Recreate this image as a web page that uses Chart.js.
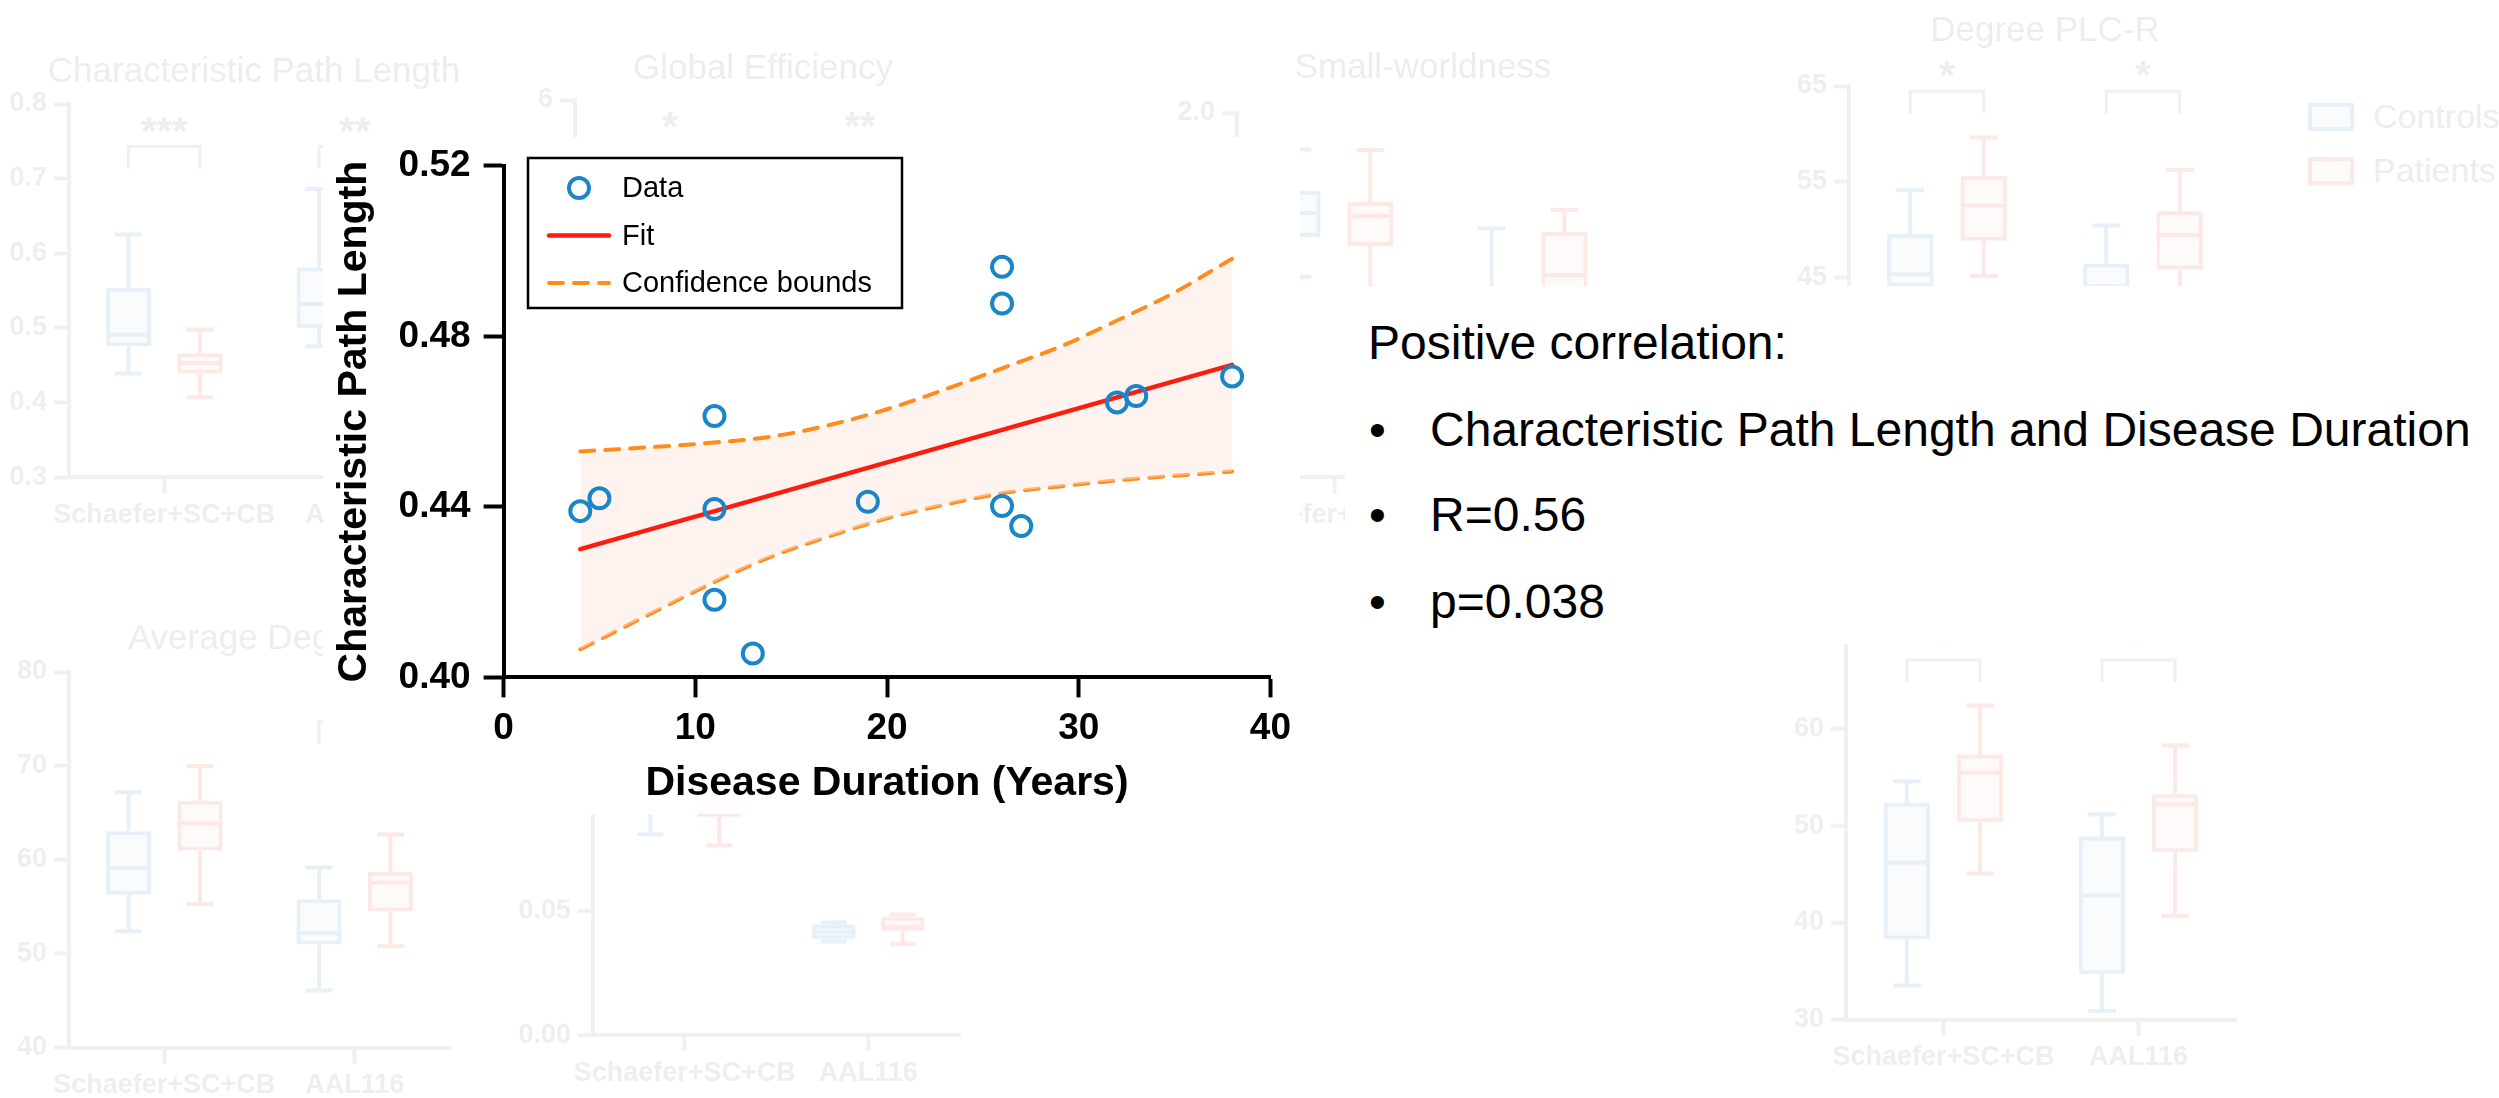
<!DOCTYPE html>
<html>
<head>
<meta charset="utf-8">
<title>Characteristic Path Length vs Disease Duration</title>
<script src="https://cdn.jsdelivr.net/npm/chart.js@4.4.1/dist/chart.umd.min.js"></script>
<style>
  html, body { margin: 0; padding: 0; background: #fff; }
  body {
    width: 2499px;
    height: 1098px;
    position: relative;
    overflow: hidden;
    font-family: "Liberation Sans", Arial, Helvetica, sans-serif;
  }
  .panel { position: absolute; z-index: 0; }
  .faint-title {
    position: absolute; z-index: 0; font-size: 35px; line-height: 40px;
    color: #ededed; white-space: nowrap; transform: translateX(-50%);
  }
  .faint-key { position: absolute; z-index: 0; font-size: 34px; line-height: 40px; color: #ededed; white-space: nowrap; }
  .faint-swatch { position: absolute; z-index: 0; width: 38px; height: 20px; border: 4px solid; }
  .mask { position: absolute; z-index: 1; background: #fff; }
  #chartBox { position: absolute; z-index: 2; left: 300px; top: 100px; width: 1000px; height: 760px; }
  .note { position: absolute; z-index: 2; font-size: 48px; line-height: 48px; color: #000; white-space: nowrap; }
</style>
</head>
<body>
  <div id="background"></div>

  <div class="faint-title" style="left: 254px; top: 50px;">Characteristic Path Length</div>
  <div class="faint-title" style="left: 763px; top: 47px;">Global Efficiency</div>
  <div class="faint-title" style="left: 1423px; top: 46px;">Small-worldness</div>
  <div class="faint-title" style="left: 2045px; top: 9px;">Degree PLC-R</div>
  <div class="faint-title" style="left: 255px; top: 617px;">Average Degree</div>

  <div class="faint-swatch" style="left: 2308px; top: 103px; border-color: #e7f0f9; background: #f9fbfd;"></div>
  <div class="faint-key" style="left: 2373px; top: 96px;">Controls</div>
  <div class="faint-swatch" style="left: 2308px; top: 157px; border-color: #fce9e5; background: #fefafa;"></div>
  <div class="faint-key" style="left: 2373px; top: 150px;">Patients</div>

  <div class="mask" style="left: 323px; top: 137px; width: 977px; height: 677px;"></div>
  <div class="mask" style="left: 1345px; top: 286px; width: 1154px; height: 358px;"></div>

  <div id="chartBox"><canvas id="canvas"></canvas></div>

  <div class="note" style="left: 1368px; top: 319px;">Positive correlation:</div>
  <div class="note" style="left: 1369px; top: 406px;">•</div>
  <div class="note" style="left: 1430px; top: 406px;">Characteristic Path Length and Disease Duration</div>
  <div class="note" style="left: 1369px; top: 491px;">•</div>
  <div class="note" style="left: 1430px; top: 491px;">R=0.56</div>
  <div class="note" style="left: 1369px; top: 578px;">•</div>
  <div class="note" style="left: 1430px; top: 578px;">p=0.038</div>

<script>
// ==================== SỐ LIỆU ====================
const duration = [4, 5, 11, 11, 11, 13, 19, 26, 26, 26, 27, 32, 33, 38];
const pathLength = [0.439, 0.442, 0.4613, 0.4395, 0.4182, 0.4056, 0.4412, 0.4963, 0.4877, 0.4402, 0.4355, 0.4645, 0.466, 0.4706];

const fitX = [4, 38];
const fitY = [0.4301, 0.4733];

const boundX = [4, 8, 11, 14, 17, 20, 23, 26, 29, 32, 35, 38];
const upperBound = [0.453, 0.4541, 0.4551, 0.4565, 0.4592, 0.4629, 0.4675, 0.4725, 0.4775, 0.4837, 0.4903, 0.4982];
const lowerBound = [0.4066, 0.4157, 0.4224, 0.4284, 0.4331, 0.4373, 0.4405, 0.4432, 0.4448, 0.4462, 0.4473, 0.4483];

const xTicks = [0, 10, 20, 30, 40];
const yTicks = [0.4, 0.44, 0.48, 0.52];

// hình nền mờ: box plot [min, q1, median, q3, max], null = bị che
const groups = ["Schaefer+SC+CB", "AAL116"];

const cplControls = [[0.439, 0.4755, 0.491, 0.5535, 0.625], [0.4755, 0.5, 0.532, 0.581, 0.686]];
const cplPatients = [[0.407, 0.439, 0.453, 0.466, 0.498], null];
const cplTicks = [0.3, 0.4, 0.5, 0.6, 0.7, 0.8];
const cplSig = ["***", "**"];

const geTicks = [0, 2, 4, 6];
const geSig = ["*", "**"];

const swControls = [[1.1, 1.319, 1.45, 1.571, 1.8], [0.6, 0.8, 0.9, 1.0, 1.365]];
const swPatients = [[1.0, 1.269, 1.434, 1.511, 1.797], [0.75, 0.98, 1.11, 1.346, 1.467]];
const swTicks = [0, 0.5, 1.0, 1.5, 2.0];

const plcControls = [[40, 44, 45.3, 49.5, 54.1], [38, 42, 44, 46.4, 50.4]];
const plcPatients = [[45.1, 48.8, 52.5, 55.57, 59.6], [43, 45.8, 49.4, 51.9, 56.2]];
const plcTicks = [35, 45, 55, 65];
const plcSig = ["*", "*"];

const degControls = [[52.4, 56.3, 59.1, 63.04, 67.2], [46.1, 51, 52.2, 55.8, 59.2]];
const degPatients = [[55.3, 61, 63.9, 66.3, 70], [50.8, 54.5, 57.6, 58.7, 62.7]];
const degTicks = [40, 50, 60, 70, 80];
const degSig = [null, "*"];

const effControls = [[0.081, 0.09, 0.093, 0.097, 0.1], [0.0378, 0.0387, 0.0415, 0.0446, 0.0455]];
const effPatients = [[0.0764, 0.088, 0.092, 0.096, 0.1], [0.0368, 0.0419, 0.0437, 0.0476, 0.0485]];
const effTicks = [0, 0.05, 0.1];

const rControls = [[33.5, 38.3, 46.2, 52.4, 54.6], [30.9, 34.7, 42.8, 48.9, 51.2]];
const rPatients = [[45.1, 50.4, 55.5, 57.35, 62.4], [40.7, 47.3, 52.2, 53.3, 58.3]];
const rTicks = [30, 40, 50, 60, 70];
const rSig = ["*", "*"];

// ==================== MÀU & FONT ====================
const FONT = '"Liberation Sans", Arial, Helvetica, sans-serif';
const BLUE = "#1a86c8";
const RED = "#fa1e0e";
const ORANGE = "#ff8c1a";
const BAND = "rgba(255, 228, 222, 0.45)";

const FAINT_TEXT = "#eeeeee";
const FAINT_AXIS = "#f0f0f0";
const CTRL_LINE = "#e7f0f9";
const CTRL_FILL = "#f9fbfd";
const PAT_LINE = "#fce9e5";
const PAT_FILL = "#fefafa";

const toPoints = (xs, ys) => xs.map((x, i) => ({ x: x, y: ys[i] }));

// ==================== HÌNH NỀN MỜ ====================
// râu, trung vị và dấu sao vẽ theo thang đo của từng biểu đồ
const boxWhisker = {
  id: "boxWhisker",
  afterDatasetsDraw(chart, args, opts) {
    const c = chart.ctx;
    const yScale = chart.scales.y;
    c.save();
    c.lineWidth = 4;
    chart.data.datasets.forEach((ds, di) => {
      const meta = chart.getDatasetMeta(di);
      c.strokeStyle = ds.borderColor;
      ds.stats.forEach((s, i) => {
        if (!s) return;
        const bar = meta.data[i];
        const x = bar.x;
        const half = bar.width / 2;
        const cap = half * 0.6;
        const [lo, q1, med, q3, hi] = s.map((v) => yScale.getPixelForValue(v));
        c.beginPath();
        c.moveTo(x, q3);
        c.lineTo(x, hi);
        c.moveTo(x - cap, hi);
        c.lineTo(x + cap, hi);
        c.moveTo(x, q1);
        c.lineTo(x, lo);
        c.moveTo(x - cap, lo);
        c.lineTo(x + cap, lo);
        c.moveTo(x - half, med);
        c.lineTo(x + half, med);
        c.stroke();
      });
    });

    if (opts.sig) {
      const a = chart.getDatasetMeta(0).data;
      const b = chart.getDatasetMeta(1).data;
      const top = yScale.getPixelForValue(opts.sigY);
      opts.sig.forEach((txt, i) => {
        if (!txt) return;
        c.strokeStyle = FAINT_AXIS;
        c.lineWidth = 3;
        c.beginPath();
        c.moveTo(a[i].x, top + 22);
        c.lineTo(a[i].x, top);
        c.lineTo(b[i].x, top);
        c.lineTo(b[i].x, top + 22);
        c.stroke();
        c.fillStyle = FAINT_TEXT;
        c.font = "bold 40px " + FONT;
        c.textAlign = "center";
        c.textBaseline = "alphabetic";
        c.fillText(txt, (a[i].x + b[i].x) / 2, top - 2);
      });
    }
    c.restore();
  },
};

function boxPanel(p) {
  const yW = 80;
  const padTop = 50;
  const xH = 70;
  const padRight = 10;

  const holder = document.createElement("div");
  holder.className = "panel";
  holder.style.left = p.axisX - yW + "px";
  holder.style.top = p.topPx - padTop + "px";
  holder.style.width = yW + p.endPx - p.axisX + padRight + "px";
  holder.style.height = padTop + p.bottomPx - p.topPx + xH + "px";
  const cv = document.createElement("canvas");
  holder.appendChild(cv);
  document.getElementById("background").appendChild(holder);

  const tickFont = { family: FONT, size: 27, weight: "bold" };

  new Chart(cv.getContext("2d"), {
    type: "bar",
    data: {
      labels: groups,
      datasets: [
        {
          label: "Controls",
          stats: p.controls,
          data: p.controls.map((s) => (s ? [s[1], s[3]] : null)),
          backgroundColor: CTRL_FILL,
          borderColor: CTRL_LINE,
          borderWidth: 4,
          borderSkipped: false,
        },
        {
          label: "Patients",
          stats: p.patients,
          data: p.patients.map((s) => (s ? [s[1], s[3]] : null)),
          backgroundColor: PAT_FILL,
          borderColor: PAT_LINE,
          borderWidth: 4,
          borderSkipped: false,
        },
      ],
    },
    options: {
      responsive: true,
      maintainAspectRatio: false,
      animation: false,
      events: [],
      layout: { padding: { left: 0, top: padTop, right: padRight, bottom: 0 } },
      datasets: { bar: { categoryPercentage: 0.75, barPercentage: 0.63 } },
      plugins: {
        legend: { display: false },
        tooltip: { enabled: false },
        boxWhisker: { sig: p.sig, sigY: p.sigY },
      },
      scales: {
        x: {
          afterFit: (s) => {
            s.height = xH;
          },
          grid: {
            offset: false,
            display: true,
            drawOnChartArea: false,
            tickLength: 16,
            tickWidth: 4,
            tickColor: FAINT_AXIS,
          },
          border: { display: true, color: FAINT_AXIS, width: 4 },
          ticks: {
            color: FAINT_TEXT,
            padding: 6,
            autoSkip: false,
            maxRotation: 0,
            minRotation: 0,
            font: tickFont,
          },
        },
        y: {
          min: p.min,
          max: p.max,
          afterBuildTicks: (s) => {
            s.ticks = p.ticks.map((v) => ({ value: v }));
          },
          afterFit: (s) => {
            s.width = yW;
          },
          grid: {
            display: true,
            drawOnChartArea: false,
            tickLength: 15,
            tickWidth: 4,
            tickColor: FAINT_AXIS,
          },
          border: { display: true, color: FAINT_AXIS, width: 4 },
          ticks: {
            color: FAINT_TEXT,
            padding: 7,
            font: tickFont,
            callback: (v) => Number(v).toFixed(p.decimals),
          },
        },
      },
    },
    plugins: [boxWhisker],
  });
}

const noBoxes = [null, null];

boxPanel({ axisX: 69, topPx: 103.6, bottomPx: 476.8, endPx: 450, min: 0.3, max: 0.8, ticks: cplTicks, decimals: 1,
  controls: cplControls, patients: cplPatients, sig: cplSig, sigY: 0.743 });
boxPanel({ axisX: 575, topPx: 100, bottomPx: 475, endPx: 955, min: 0, max: 6, ticks: geTicks, decimals: 0,
  controls: noBoxes, patients: noBoxes, sig: geSig, sigY: 5.33 });
boxPanel({ axisX: 1237, topPx: 113, bottomPx: 477, endPx: 1625, min: 0, max: 2, ticks: swTicks, decimals: 1,
  controls: swControls, patients: swPatients });
boxPanel({ axisX: 1849, topPx: 85.7, bottomPx: 372.3, endPx: 2241, min: 35, max: 65, ticks: plcTicks, decimals: 0,
  controls: plcControls, patients: plcPatients, sig: plcSig, sigY: 64.45 });
boxPanel({ axisX: 69, topPx: 671.5, bottomPx: 1047.3, endPx: 450, min: 40, max: 80, ticks: degTicks, decimals: 0,
  controls: degControls, patients: degPatients, sig: degSig, sigY: 74.7 });
boxPanel({ axisX: 593, topPx: 787.4, bottomPx: 1034.6, endPx: 960, min: 0, max: 0.1, ticks: effTicks, decimals: 2,
  controls: effControls, patients: effPatients });
boxPanel({ axisX: 1846, topPx: 632.1, bottomPx: 1018.8, endPx: 2236, min: 30, max: 70, ticks: rTicks, decimals: 0,
  controls: rControls, patients: rPatients, sig: rSig, sigY: 67.1 });

// ==================== BIỂU ĐỒ CHÍNH ====================
// khung chú thích vẽ trong vùng biểu đồ
const legendBox = {
  id: "legendBox",
  afterDatasetsDraw(chart, args, opts) {
    const c = chart.ctx;
    c.save();
    c.fillStyle = "#fff";
    c.fillRect(opts.left, opts.top, opts.width, opts.height);
    c.lineWidth = 2.5;
    c.strokeStyle = "#000";
    c.strokeRect(opts.left, opts.top, opts.width, opts.height);

    let row = 0;
    chart.data.datasets.forEach((ds) => {
      if (ds.hideInLegend) return;
      const y = opts.top + opts.firstRow + row * opts.rowGap;
      const mid = opts.left + opts.symbolX;
      if (ds.showLine) {
        c.beginPath();
        c.lineWidth = ds.borderWidth;
        c.strokeStyle = ds.borderColor;
        c.lineCap = "round";
        c.setLineDash(ds.borderDash || []);
        c.moveTo(mid - 30, y);
        c.lineTo(mid + 30, y);
        c.stroke();
        c.setLineDash([]);
      } else {
        c.beginPath();
        c.lineWidth = ds.pointBorderWidth;
        c.strokeStyle = ds.pointBorderColor;
        c.arc(mid, y, ds.pointRadius, 0, Math.PI * 2);
        c.stroke();
      }
      c.fillStyle = "#000";
      c.font = "29px " + FONT;
      c.textBaseline = "middle";
      c.textAlign = "left";
      c.fillText(ds.label, opts.left + opts.textX, y + 1);
      row++;
    });
    c.restore();
  },
};

const ctx = document.getElementById("canvas").getContext("2d");

const myChart = new Chart(ctx, {
  type: "scatter",
  data: {
    datasets: [
      {
        label: "Data",
        data: toPoints(duration, pathLength),
        pointRadius: 10,
        pointHoverRadius: 10,
        pointBorderWidth: 4,
        pointBorderColor: BLUE,
        pointBackgroundColor: "rgba(0,0,0,0)",
        showLine: false,
      },
      {
        label: "Fit",
        data: toPoints(fitX, fitY),
        showLine: true,
        borderColor: RED,
        borderWidth: 4.5,
        borderCapStyle: "round",
        pointRadius: 0,
        fill: false,
      },
      {
        label: "Confidence bounds",
        data: toPoints(boundX, upperBound),
        showLine: true,
        borderColor: ORANGE,
        borderWidth: 4,
        borderDash: [14, 11],
        borderCapStyle: "round",
        cubicInterpolationMode: "monotone",
        pointRadius: 0,
        fill: "+1",
        backgroundColor: BAND,
      },
      {
        label: "Lower bound",
        hideInLegend: true,
        data: toPoints(boundX, lowerBound),
        showLine: true,
        borderColor: ORANGE,
        borderWidth: 4,
        borderDash: [14, 11],
        borderCapStyle: "round",
        cubicInterpolationMode: "monotone",
        pointRadius: 0,
        fill: false,
      },
    ],
  },
  options: {
    responsive: true,
    maintainAspectRatio: false,
    animation: false,
    events: [],
    layout: {
      padding: { left: 0, top: 65.8, right: 25, bottom: 0 },
    },
    plugins: {
      legend: { display: false },
      tooltip: { enabled: false },
      legendBox: {
        left: 228,
        top: 58,
        width: 374,
        height: 150,
        firstRow: 30,
        rowGap: 47.5,
        symbolX: 51,
        textX: 94,
      },
    },
    scales: {
      x: {
        type: "linear",
        min: 0,
        max: 40,
        afterBuildTicks: (s) => {
          s.ticks = xTicks.map((v) => ({ value: v }));
        },
        afterFit: (s) => {
          s.height = 182.6;
        },
        ticks: {
          color: "#000",
          padding: 9,
          font: { family: FONT, size: 37, weight: "bold" },
        },
        grid: {
          display: true,
          drawOnChartArea: false,
          drawTicks: true,
          tickLength: 20,
          tickWidth: 4,
          tickColor: "#000",
          color: "#000",
        },
        border: { display: true, color: "#000", width: 4 },
        title: {
          display: true,
          text: "Disease Duration (Years)",
          color: "#000",
          font: { family: FONT, size: 41, weight: "bold" },
          padding: { top: 0, bottom: 52 },
        },
      },
      y: {
        type: "linear",
        min: 0.4,
        max: 0.52,
        afterBuildTicks: (s) => {
          s.ticks = yTicks.map((v) => ({ value: v }));
        },
        afterFit: (s) => {
          s.width = 203.6;
        },
        ticks: {
          color: "#000",
          padding: 13,
          font: { family: FONT, size: 37, weight: "bold" },
          callback: (v) => Number(v).toFixed(2),
        },
        grid: {
          display: true,
          drawOnChartArea: false,
          drawTicks: true,
          tickLength: 20,
          tickWidth: 4,
          tickColor: "#000",
          color: "#000",
        },
        border: { display: true, color: "#000", width: 4 },
        title: {
          display: true,
          text: "Characteristic Path Length",
          color: "#000",
          font: { family: FONT, size: 41, weight: "bold" },
          padding: { top: 30, bottom: 0 },
        },
      },
    },
  },
  plugins: [legendBox],
});
</script>
</body>
</html>
